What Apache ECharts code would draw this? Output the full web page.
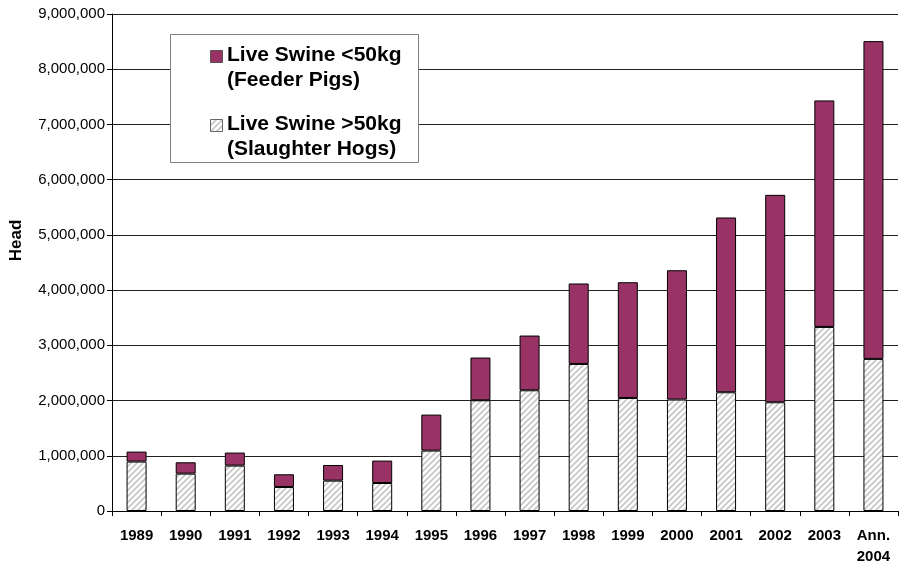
<!DOCTYPE html>
<html>
<head>
<meta charset="utf-8">
<script src="https://cdn.jsdelivr.net/npm/echarts@6/dist/echarts.min.js"></script>
<style>html,body{margin:0;padding:0;background:#fff}#c{width:899px;height:567px}</style>
</head>
<body>
<div id="c"></div>
<script>
const categories = ['1989','1990','1991','1992','1993','1994','1995','1996','1997','1998','1999','2000','2001','2002','2003','Ann.\n2004'];
const slaughterHogs = [895000,677000,822000,435000,550000,507000,1094000,2005000,2186000,2663000,2047000,2018000,2150000,1969000,3333000,2754000];
const feederPigs = [181000,205000,236000,230000,283000,406000,652000,774000,991000,1457000,2096000,2342000,3165000,3756000,4102000,5755000];
const yTicks = {min:0, max:9000000, interval:1000000};
const seriesNames = ['Live Swine <50kg\n(Feeder Pigs)','Live Swine >50kg\n(Slaughter Hogs)'];

function hatch(){
  const s = 6, cv = document.createElement('canvas');
  cv.width = s; cv.height = s;
  const g = cv.getContext('2d');
  g.fillStyle = '#ffffff'; g.fillRect(0,0,s,s);
  g.strokeStyle = '#c8c8c8'; g.lineWidth = 1.8;
  g.beginPath();
  g.moveTo(0,s); g.lineTo(s,0);
  g.moveTo(-s/2,s/2); g.lineTo(s/2,-s/2);
  g.moveTo(s/2,s*1.5); g.lineTo(s*1.5,s/2);
  g.stroke();
  return {image: cv, repeat: 'repeat'};
}
const hatchFill = hatch();
const purple = '#993366';

const chart = echarts.init(document.getElementById('c'), null, {renderer:'canvas'});
chart.setOption({
  animation:false,
  backgroundColor:'#ffffff',
  grid:{left:112, right:1, top:14, bottom:56, containLabel:false},
  xAxis:{
    type:'category', data:categories, boundaryGap:true,
    axisLine:{lineStyle:{color:'#000', width:1}},
    axisTick:{show:true, length:5, lineStyle:{color:'#000'}},
    axisLabel:{color:'#000', fontFamily:'Liberation Sans, Arial, sans-serif', fontWeight:'bold', fontSize:15, margin:14, lineHeight:21, interval:0}
  },
  yAxis:{
    type:'value', min:yTicks.min, max:yTicks.max, interval:yTicks.interval,
    name:'Head', nameLocation:'middle', nameGap:87,
    nameTextStyle:{color:'#000', fontFamily:'Liberation Sans, Arial, sans-serif', fontWeight:'bold', fontSize:17, padding:[0,0,0,44]},
    axisLine:{show:true, lineStyle:{color:'#000', width:1}},
    axisTick:{show:true, length:5, lineStyle:{color:'#000'}},
    axisLabel:{color:'#000', fontFamily:'Liberation Sans, Arial, sans-serif', fontSize:15, margin:7,
      formatter:v=>v.toLocaleString('en-US')},
    splitLine:{show:true, lineStyle:{color:'#222', width:1}}
  },
  series:[
    {name:seriesNames[1], type:'bar', stack:'t', data:slaughterHogs, barWidth:20,
     itemStyle:{color:hatchFill, borderColor:'#000', borderWidth:1}},
    {name:seriesNames[0], type:'bar', stack:'t', data:feederPigs, barWidth:20,
     itemStyle:{color:purple, borderColor:'#000', borderWidth:1}}
  ],
  graphic:[
    {type:'rect', shape:{x:170.5, y:34.5, width:248, height:128}, style:{fill:'#fff', stroke:'#808080', lineWidth:1}, z:100},
    {type:'rect', shape:{x:210.5, y:50.5, width:12, height:12}, style:{fill:purple, stroke:'#555', lineWidth:1}, z:101},
    {type:'text', x:227, y:43, style:{text:seriesNames[0], fill:'#000', font:'bold 21px "Liberation Sans", Arial, sans-serif', lineHeight:25, textVerticalAlign:'top'}, z:101},
    {type:'rect', shape:{x:210.5, y:119.5, width:12, height:12}, style:{fill:hatchFill, stroke:'#666', lineWidth:1}, z:101},
    {type:'text', x:227, y:112, style:{text:seriesNames[1], fill:'#000', font:'bold 21px "Liberation Sans", Arial, sans-serif', lineHeight:25, textVerticalAlign:'top'}, z:101}
  ]
});
</script>
</body>
</html>
